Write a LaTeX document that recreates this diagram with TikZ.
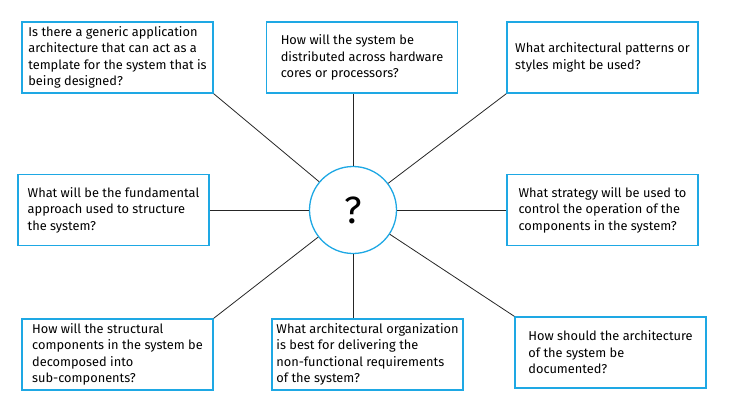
\documentclass[tikz,border=0pt]{standalone}
\usepackage{fontspec}
\setmainfont{Fira Sans}
\usepackage[svgnames, dvipsnames]{xcolor}
\usetikzlibrary{calc, arrows.meta}
\definecolor{qblue}{HTML}{1EA8E4}
\tikzset{>=latex}
\tikzset{
  qbox/.style={draw=qblue, line width=1.3pt, fill=white, align=left,
    minimum width=191pt, minimum height=71pt, inner sep=0pt,
    font=\fontsize{12.8}{16.5}\selectfont},
  conn/.style={black!85, line width=0.8pt}
}

\begin{document}
\begin{tikzpicture}[x=1pt, y=-1pt]
\useasboundingbox (0,0) rectangle (738,407);
\node[circle, draw=qblue, line width=1.3pt, minimum size=87pt,
  font=\fontsize{38}{40}\selectfont] (q) at (353,210) {?};
\node[qbox] (generic) at (117.5,57.5) {Is there a generic application\\architecture that can act as a\\template for the system that is\\being designed?};
\node[qbox] (distrib) at (362,57.5) {How will the system be\\distributed across hardware\\cores or processors?};
\node[qbox] (pattern) at (602.5,57.5) {What architectural patterns or\\styles might be used?};
\node[qbox] (approach) at (113.5,210) {What will be the fundamental\\approach used to structure\\the system?};
\node[qbox] (control) at (602.5,210) {What strategy will be used to\\control the operation of the\\components in the system?};
\node[qbox] (decomp) at (117.5,354.5) {How will the structural\\components in the system be\\decomposed into\\sub-components?};
\node[qbox] (nonfunc) at (367.5,354.5) {What architectural organization\\is best for delivering the\\non-functional requirements\\of the system?};
\node[qbox] (document) at (610.5,352.5) {How should the architecture\\of the system be\\documented?};
% spokes from the centre
\draw[conn] (q) -- (generic.south east);
\draw[conn] (q) -- (q |- distrib.south);
\draw[conn] (q) -- (pattern.south west);
\draw[conn] (q) -- (approach.east);
\draw[conn] (q) -- (control.west);
\draw[conn] (q) -- (decomp.north east);
\draw[conn] (q) -- (q |- nonfunc.north);
\draw[conn] (q) -- (document.north west);
\end{tikzpicture}
\end{document}
